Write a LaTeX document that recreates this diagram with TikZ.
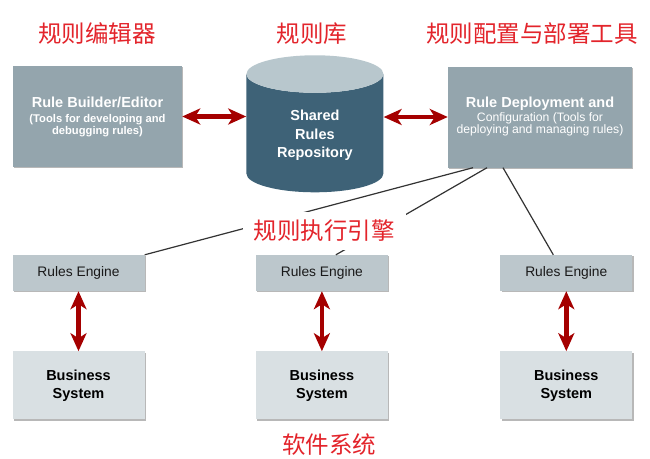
\documentclass[tikz,border=0pt]{standalone}
\usepackage{fontspec}
\setmainfont{Liberation Sans}
\newfontfamily\cjk{Noto Sans CJK SC}
\usetikzlibrary{positioning,shapes.geometric,arrows.meta,shadows}
\definecolor{toolgray}{HTML}{94A5AD}
\definecolor{repoblue}{HTML}{3E6277}
\definecolor{repotop}{HTML}{B8C7CD}
\definecolor{enginegray}{HTML}{BCC7CC}
\definecolor{bizgray}{HTML}{D9E0E3}
\definecolor{arrowred}{HTML}{A50000}
\definecolor{notered}{HTML}{E3242B}
\newcommand{\RuleTierGap}{60}
\tikzset{
  boxshadow/.style={drop shadow={shadow xshift=1.2pt, shadow yshift=-1.2pt, fill=black!55}},
  toolbox/.style={rectangle, fill=toolgray, text=white, align=center, inner sep=2pt,
    minimum width=169pt, minimum height=101pt, boxshadow},
  repobox/.style={cylinder, shape border rotate=90, aspect=0.47, cylinder uses custom fill,
    cylinder body fill=repoblue, cylinder end fill=repotop, text=white, align=center,
    minimum width=137pt, minimum height=137pt, inner sep=2pt,
    font=\fontsize{14.5}{18.5}\selectfont\bfseries},
  enginebox/.style={rectangle, fill=enginegray, text=black!90, minimum width=132pt,
    minimum height=36pt, font=\fontsize{13.8}{15}\selectfont, boxshadow},
  bizbox/.style={rectangle, fill=bizgray, text=black, align=center, minimum width=132pt,
    minimum height=68pt, font=\fontsize{14.5}{18}\selectfont\bfseries, boxshadow},
  note/.style={text=notered, font=\cjk\fontsize{23.5}{26}\selectfont, inner sep=0pt},
  wire/.style={draw=black!80, line width=1.2pt},
  biarrow/.style={draw=arrowred, line width=4.5pt,
    {Stealth[length=18pt,width=16pt,inset=5pt]}-{Stealth[length=18pt,width=16pt,inset=5pt]}}
}
\begin{document}
\begin{tikzpicture}[x=1pt, y=-1pt]
  \useasboundingbox[fill=white] (0,0) rectangle (650,458);
  \node[toolbox] (builder) at (97.5,116.5) {{\fontsize{14.5}{17}\selectfont\bfseries Rule Builder/Editor}\\[3pt]
    {\fontsize{11.2}{13.5}\selectfont\bfseries (Tools for developing and}\\
    {\fontsize{11.2}{13.5}\selectfont\bfseries debugging rules)}};
  \node[repobox, right=64pt of builder, yshift=-19pt] (repo) {Shared\\Rules\\Repository};
  \node[toolbox, minimum width=184pt] (deploy) at (540,117) {{\fontsize{14.5}{17}\selectfont\bfseries Rule Deployment and}\\[2pt]
    {\fontsize{12.2}{13.5}\selectfont Configuration (Tools for}\\
    {\fontsize{12.2}{13.5}\selectfont deploying and managing rules)}};
  \node[enginebox] (eng1) at (78.5,273) {Rules Engine};
  \node[enginebox, right=111pt of eng1] (eng2) {Rules Engine};
  \node[enginebox, right=112pt of eng2] (eng3) {Rules Engine};
  \node[bizbox, below=\RuleTierGap pt of eng1] (biz1) {Business\\System};
  \node[bizbox, below=\RuleTierGap pt of eng2] (biz2) {Business\\System};
  \node[bizbox, below=\RuleTierGap pt of eng3] (biz3) {Business\\System};
  \node[note] (t-builder) at (97,34) {规则编辑器};
  \node[note] (t-repo) at (312,34) {规则库};
  \node[note] (t-deploy) at (532,34) {规则配置与部署工具};
  \node[note] (t-biz) at (329,445) {软件系统};
  \draw[biarrow] (builder.east) -- (builder.east -| repo.west);
  \draw[biarrow] (deploy.west -| repo.east) -- (deploy.west);
  \draw[biarrow] (eng1.south) -- (biz1.north);
  \draw[biarrow] (eng2.south) -- (biz2.north);
  \draw[biarrow] (eng3.south) -- (biz3.north);
  \draw[wire] ([xshift=-67pt]deploy.south) -- (eng1.north east);
  \draw[wire] ([xshift=-53pt]deploy.south) -- ([xshift=14pt]eng2.north);
  \draw[wire] ([xshift=-37pt]deploy.south) -- ([xshift=-13pt]eng3.north);
  \node[note, fill=white, inner xsep=11pt, inner ysep=8pt] (t-engine) at (324,231) {规则执行引擎};
\end{tikzpicture}
\end{document}
